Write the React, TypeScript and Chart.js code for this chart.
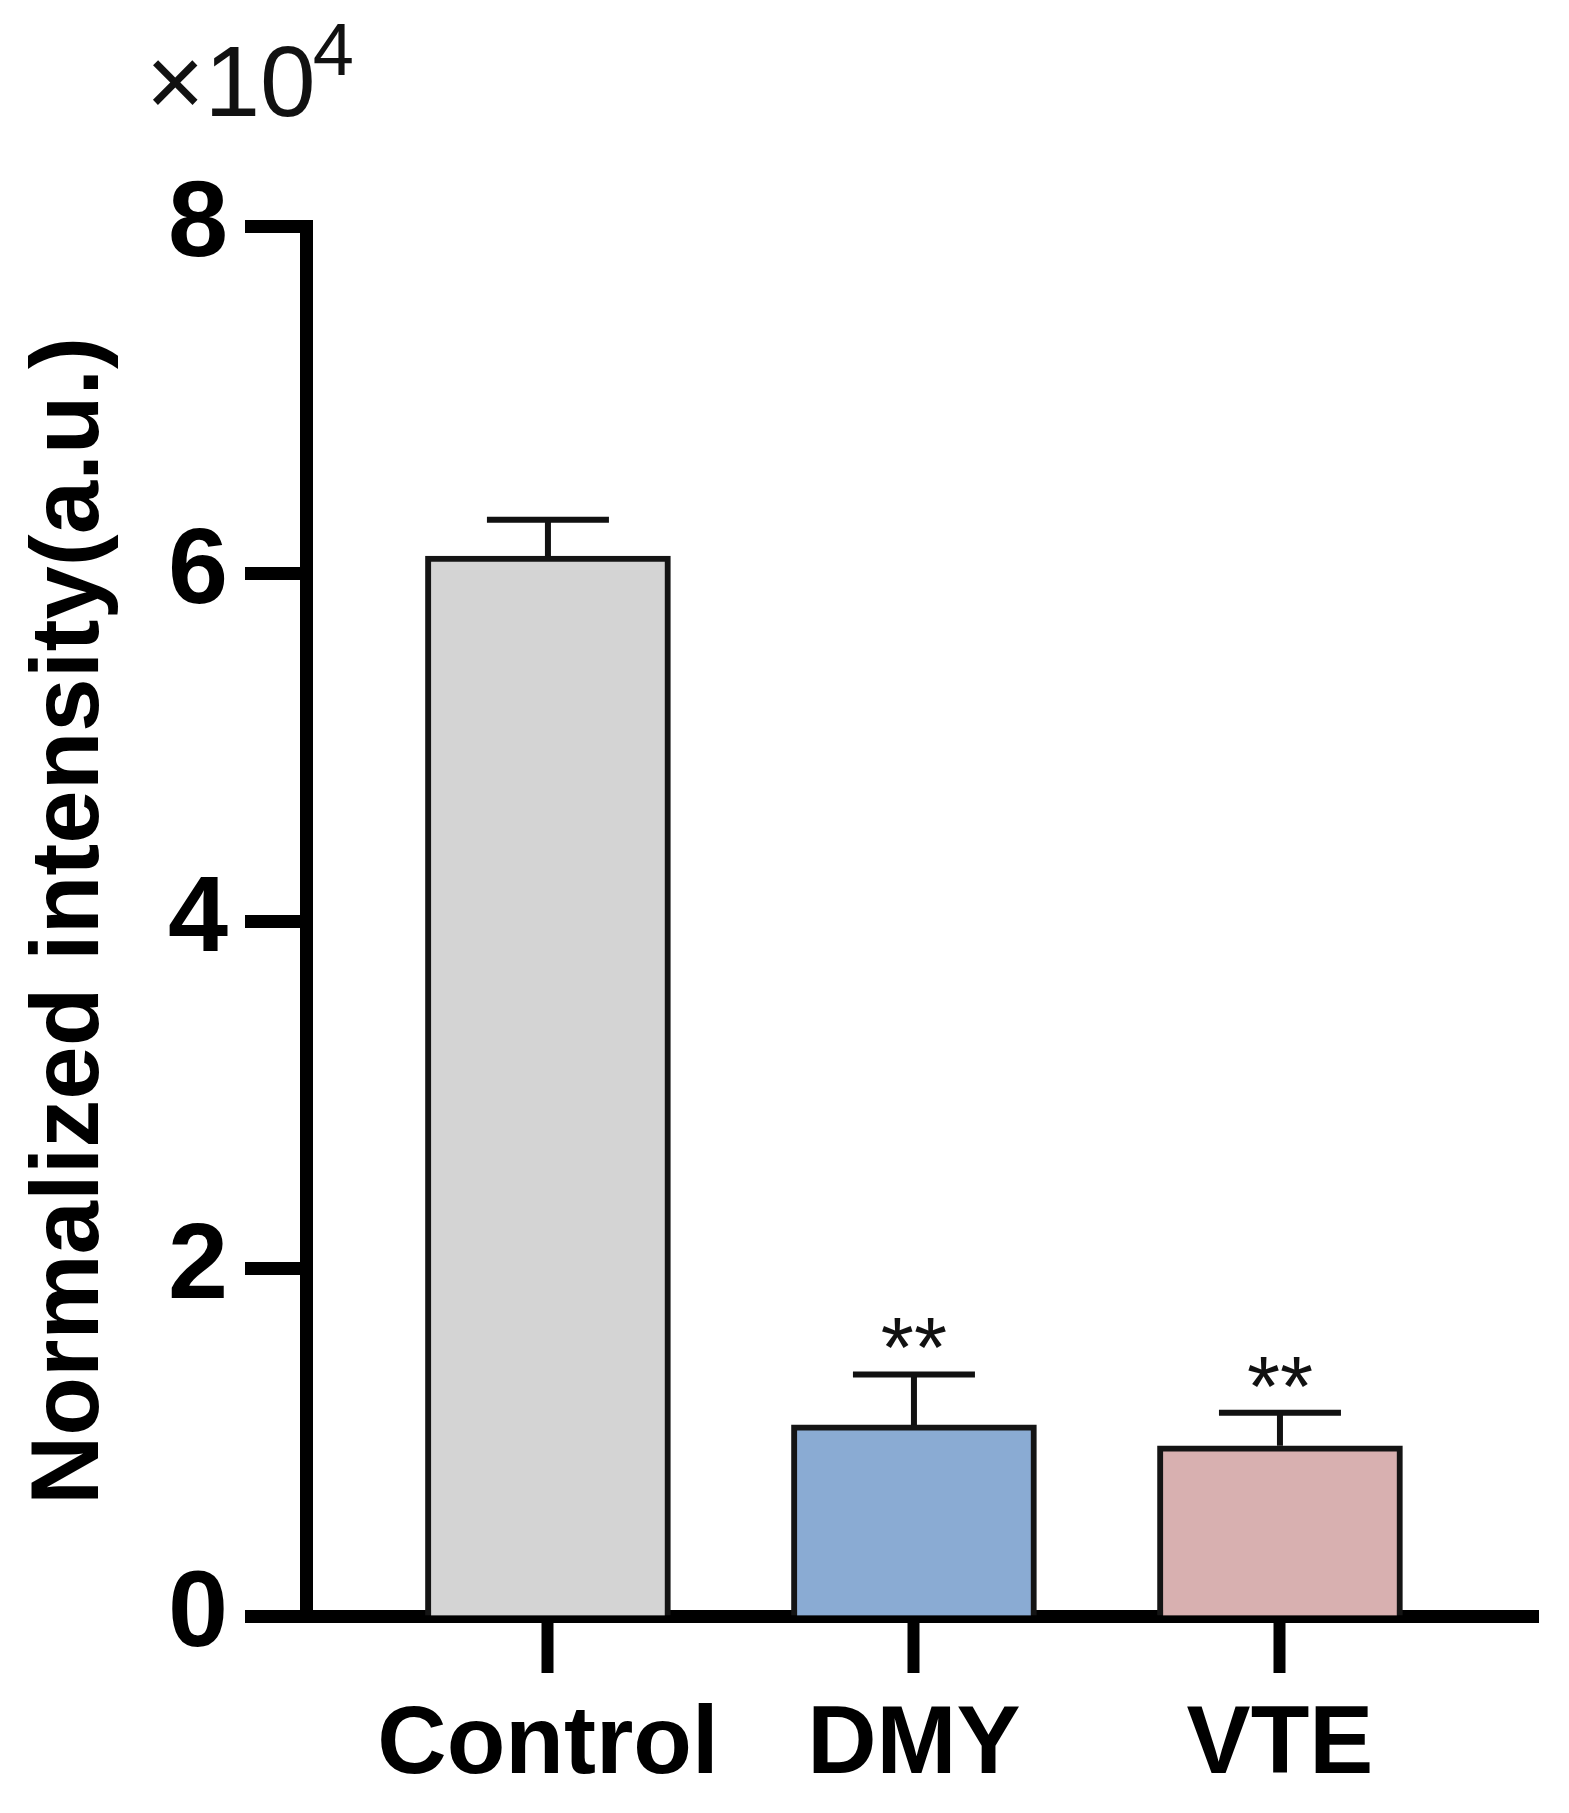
import React, { useEffect, useRef } from 'react';
import { Chart, registerables } from 'chart.js';

Chart.register(...registerables);

const FONT = '"Liberation Sans", Arial, Helvetica, sans-serif';

// ---- data ----
const categories = ['Control', 'DMY', 'VTE'];
const means = [6.1, 1.1, 0.98];
const errors = [0.21, 0.29, 0.19];
const significance = ['', '**', '**'];
const fillColors = ['#d4d4d4', '#8aabd3', '#d8b0b0'];
const yTicks = [0, 2, 4, 6, 8];
const yTitle = 'Normalized intensity(a.u.)';
const multiplierBase = '\u00d710';
const multiplierExp = '4';

export default function App() {
  const ref = useRef<HTMLCanvasElement>(null);

  useEffect(() => {
    const canvas = ref.current!;

    const errorBars = {
      id: 'errorBars',
      afterDatasetsDraw(chart: any) {
        const ctx = chart.ctx;
        const xs = chart.scales.x;
        const ys = chart.scales.y;
        ctx.save();
        ctx.strokeStyle = '#111';
        ctx.fillStyle = '#111';
        ctx.lineWidth = 6;
        ctx.lineCap = 'butt';
        categories.forEach((_, i) => {
          const x = xs.getPixelForValue(i);
          const yBar = ys.getPixelForValue(means[i]);
          const yTop = ys.getPixelForValue(means[i] + errors[i]);
          ctx.beginPath();
          ctx.moveTo(x, yBar);
          ctx.lineTo(x, yTop);
          ctx.moveTo(x - 61, yTop);
          ctx.lineTo(x + 61, yTop);
          ctx.stroke();
          if (significance[i]) {
            ctx.font = `85px ${FONT}`;
            ctx.textAlign = 'center';
            ctx.textBaseline = 'alphabetic';
            ctx.fillText(significance[i], x, yTop + 3);
          }
        });
        ctx.restore();
      },
    };

    const multiplier = {
      id: 'multiplier',
      afterDraw(chart: any) {
        const ctx = chart.ctx;
        ctx.save();
        ctx.fillStyle = '#111';
        ctx.textAlign = 'left';
        ctx.textBaseline = 'alphabetic';
        ctx.font = `100px ${FONT}`;
        ctx.fillText(multiplierBase, 146, 116);
        const w = ctx.measureText(multiplierBase).width;
        ctx.font = `74px ${FONT}`;
        ctx.fillText(multiplierExp, 146 + w - 3, 75);
        ctx.restore();
      },
    };

    const chart = new Chart(canvas, {
      type: 'bar',
      data: {
        datasets: [
          {
            data: categories.map((_, i) => ({ x: i, y: means[i] })),
            backgroundColor: fillColors,
            borderColor: '#141414',
            borderWidth: 6,
            borderSkipped: 'start',
            barThickness: 245,
          } as any,
        ],
      },
      options: {
        animation: false,
        responsive: false,
        devicePixelRatio: 1,
        layout: { padding: { top: 226, right: 31, left: 0, bottom: 0 } },
        plugins: {
          legend: { display: false },
          tooltip: { enabled: false },
        },
        scales: {
          x: {
            type: 'linear',
            min: -0.661,
            max: 2.705,
            offset: false,
            z: 1,
            afterBuildTicks: (s: any) => {
              s.ticks = categories.map((_, i) => ({ value: i }));
            },
            afterFit: (s: any) => {
              s.height = 197;
            },
            grid: {
              drawOnChartArea: false,
              offset: false,
              tickLength: 57,
              tickWidth: 12,
              tickColor: '#000',
            },
            border: { display: true, width: 13, color: '#000' },
            ticks: {
              padding: 26,
              color: '#000',
              autoSkip: false,
              maxRotation: 0,
              font: { family: FONT, size: 96, weight: 'bold', lineHeight: 1 },
              callback: (v: any) => categories[Math.round(Number(v))] ?? '',
            },
          },
          y: {
            type: 'linear',
            min: 0,
            max: 8,
            z: 1,
            afterBuildTicks: (s: any) => {
              s.ticks = yTicks.map((v) => ({ value: v }));
            },
            afterFit: (s: any) => {
              s.width = 306;
            },
            grid: {
              drawOnChartArea: false,
              tickLength: 61,
              tickWidth: 13,
              tickColor: '#000',
            },
            border: { display: true, width: 13, color: '#000' },
            ticks: {
              padding: 17,
              color: '#000',
              font: { family: FONT, size: 108, weight: 'bold', lineHeight: 1 },
              callback: (v: any) => String(v),
            },
            title: {
              display: true,
              text: yTitle,
              color: '#000',
              padding: { top: 24, bottom: 0 },
              font: { family: FONT, size: 96, weight: 'bold', lineHeight: 1 },
            },
          },
        },
      } as any,
      plugins: [errorBars, multiplier],
    });

    return () => chart.destroy();
  }, []);

  return (
    <div style={{ position: 'absolute', left: 0, top: 0, width: 1569, height: 1813, background: '#fff' }}>
      <canvas ref={ref} width={1569} height={1813} style={{ display: 'block' }} />
    </div>
  );
}
